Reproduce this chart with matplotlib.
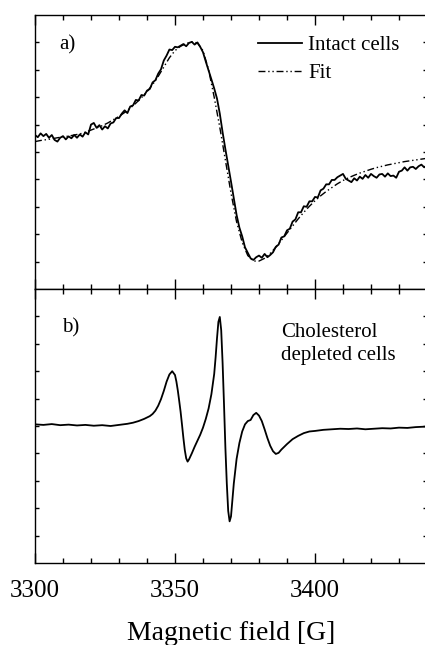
import numpy as np
import matplotlib
matplotlib.use("Agg")
import matplotlib.pyplot as plt
from matplotlib.ticker import MultipleLocator

plt.rcParams['font.family'] = ['Liberation Serif', 'DejaVu Serif']

# Panel a: intact cells (measured, 1 G steps) and the fit
field_a = np.arange(3300, 3441, 1)
intact_a = [
    5.62, 5.54, 5.68, 5.58, 5.66, 5.52, 5.62, 5.44, 5.38, 5.52,
    5.58, 5.46, 5.57, 5.50, 5.62, 5.52, 5.64, 5.56, 5.72, 5.64,
    6.00, 6.06, 5.88, 5.98, 5.82, 5.94, 5.86, 6.04, 6.08, 6.24,
    6.24, 6.40, 6.52, 6.42, 6.66, 6.70, 6.90, 6.88, 7.08, 7.06,
    7.24, 7.30, 7.54, 7.62, 7.86, 8.02, 8.34, 8.52, 8.74, 8.72,
    8.84, 8.82, 8.88, 8.94, 8.86, 8.98, 9.02, 8.92, 9.00, 8.84,
    8.64, 8.30, 7.98, 7.65, 7.32, 6.95, 6.40, 5.72, 5.10, 4.52,
    3.92, 3.30, 2.70, 2.24, 1.92, 1.52, 1.32, 1.12, 1.06, 1.16,
    1.22, 1.14, 1.28, 1.16, 1.24, 1.34, 1.54, 1.62, 1.88, 1.92,
    2.14, 2.20, 2.46, 2.54, 2.80, 2.80, 3.02, 3.00, 3.20, 3.20,
    3.36, 3.34, 3.60, 3.66, 3.82, 3.82, 3.98, 3.98, 4.08, 4.14,
    4.20, 4.02, 3.96, 3.90, 4.04, 3.96, 4.10, 4.02, 4.16, 4.06,
    4.20, 4.12, 4.06, 4.18, 4.20, 4.10, 4.22, 4.12, 4.14, 4.06,
    4.28, 4.32, 4.44, 4.32, 4.44, 4.46, 4.38, 4.48, 4.54, 4.44,
    4.52,
]

field_fit = np.arange(3300, 3441, 2)
fit_a = [
    5.38, 5.42, 5.45, 5.48, 5.52, 5.55, 5.58, 5.62, 5.66, 5.72,
    5.80, 5.88, 5.96, 6.06, 6.18, 6.30, 6.44, 6.60, 6.78, 6.98,
    7.20, 7.46, 7.76, 8.10, 8.44, 8.70, 8.86, 8.96, 9.02, 8.98,
    8.70, 8.00, 7.00, 5.90, 4.70, 3.50, 2.45, 1.70, 1.22, 1.02,
    1.02, 1.12, 1.30, 1.52, 1.78, 2.04, 2.30, 2.56, 2.80, 3.02,
    3.22, 3.40, 3.56, 3.70, 3.84, 3.96, 4.06, 4.15, 4.23, 4.30,
    4.37, 4.43, 4.48, 4.53, 4.57, 4.61, 4.65, 4.68, 4.71, 4.74,
    4.77,
]

# Panel b: cholesterol depleted cells
field_b = [
    3300, 3303, 3306, 3309, 3312, 3315, 3318, 3321, 3324, 3327,
    3330, 3333, 3335, 3337, 3339, 3341, 3342, 3343, 3344, 3345,
    3346, 3347, 3348, 3349, 3350, 3350.5, 3351, 3351.5, 3352, 3352.5,
    3353, 3353.5, 3354, 3354.5, 3355, 3356, 3357, 3358, 3359, 3360,
    3361, 3362, 3363, 3364, 3364.5, 3365, 3365.5, 3366, 3366.5, 3367,
    3367.5, 3368, 3368.5, 3369, 3369.5, 3370, 3370.5, 3371, 3372, 3373,
    3374, 3375, 3376, 3377, 3378, 3379, 3380, 3381, 3382, 3383,
    3384, 3385, 3386, 3387, 3388, 3389, 3390, 3392, 3394, 3396,
    3398, 3400, 3403, 3406, 3409, 3412, 3415, 3418, 3421, 3424,
    3427, 3430, 3433, 3436, 3440,
]
depleted_b = [
    5.06, 5.04, 5.07, 5.03, 5.05, 5.02, 5.04, 5.01, 5.03, 5.00,
    5.04, 5.08, 5.12, 5.18, 5.26, 5.36, 5.44, 5.56, 5.74, 5.98,
    6.28, 6.62, 6.88, 7.00, 6.86, 6.62, 6.30, 5.92, 5.52, 5.05,
    4.56, 4.12, 3.82, 3.70, 3.78, 4.00, 4.24, 4.46, 4.68, 4.94,
    5.26, 5.64, 6.16, 6.90, 7.50, 8.20, 8.80, 8.98, 8.50, 7.30,
    5.80, 4.20, 2.90, 1.90, 1.52, 1.70, 2.30, 2.90, 3.80, 4.38,
    4.80, 5.06, 5.18, 5.22, 5.40, 5.48, 5.38, 5.18, 4.88, 4.56,
    4.28, 4.08, 3.98, 4.02, 4.14, 4.24, 4.34, 4.52, 4.64, 4.74,
    4.80, 4.82, 4.86, 4.88, 4.90, 4.89, 4.91, 4.88, 4.90, 4.92,
    4.91, 4.94, 4.93, 4.96, 4.98,
]

x_ticks = [3300, 3350, 3400]

W, H = 425, 645
fig = plt.figure(figsize=(W / 100, H / 100), dpi=100)

left = 35 / W
width = 392 / W
top_a, mid, bot_b = 15, 289, 563
ax_a = fig.add_axes([left, 1 - mid / H, width, (mid - top_a) / H])
ax_b = fig.add_axes([left, 1 - bot_b / H, width, (bot_b - mid) / H])

for ax in (ax_a, ax_b):
    ax.set_xlim(3300, 3440)
    ax.set_ylim(0, 10)
    ax.set_xticks(x_ticks)
    ax.xaxis.set_minor_locator(MultipleLocator(10))
    ax.set_yticks(range(1, 10))
    ax.tick_params(axis='x', which='major', direction='in', length=7, width=1,
                   top=True, bottom=True, labelsize=18, pad=12)
    ax.tick_params(axis='x', which='minor', direction='in', length=3.5, width=1,
                   top=True, bottom=True)
    ax.tick_params(axis='y', which='major', direction='in', length=3, width=1,
                   left=True, right=True, labelleft=False)
    for s in ax.spines.values():
        s.set_linewidth(1.0)

ax_a.tick_params(axis='x', labelbottom=False)

ax_a.plot(field_a, intact_a, color='black', lw=1.3, label='Intact cells')
ax_a.plot(field_fit, fit_a, color='black', lw=1.0,
          linestyle=(0, (5, 2, 1, 2, 1, 2)), label='Fit')
ax_a.text(0.062, 0.89, 'a)', transform=ax_a.transAxes, fontsize=15, va='center')
ax_a.legend(loc='upper left', bbox_to_anchor=(0.569, 0.924), frameon=False,
            fontsize=15, handlelength=2.1, handletextpad=0.3,
            borderpad=0, borderaxespad=0, labelspacing=0.4)

ax_b.plot(field_b, depleted_b, color='black', lw=1.3)
ax_b.text(0.07, 0.86, 'b)', transform=ax_b.transAxes, fontsize=15, va='center')
ax_b.text(0.628, 0.80, 'Cholesterol\ndepleted cells', transform=ax_b.transAxes,
          fontsize=15, va='center', linespacing=1.25)
ax_b.set_xlabel('Magnetic field [G]', fontsize=20, labelpad=14)

fig.savefig('out.png', dpi=100)
